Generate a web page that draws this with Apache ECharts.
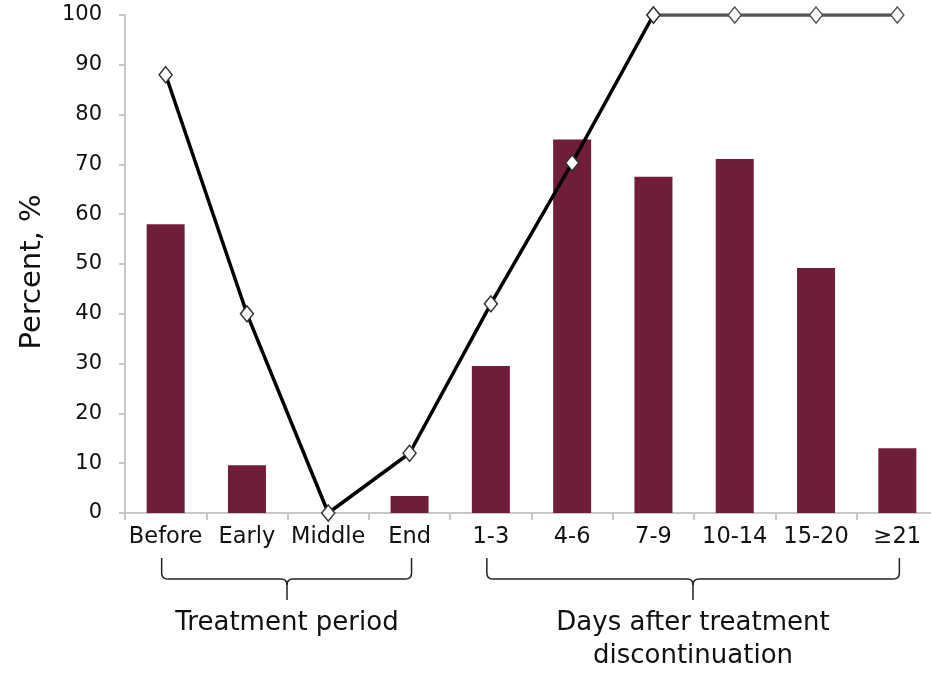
<!DOCTYPE html>
<html><head><meta charset="utf-8">
<script src="https://cdn.jsdelivr.net/npm/echarts@6/dist/echarts.min.js"></script>
<style>html,body{margin:0;padding:0;background:#fff}#c{width:931px;height:673px}</style>
</head><body><div id="c"></div>
<script>
var categories = ['Before','Early','Middle','End','1-3','4-6','7-9','10-14','15-20','\u226521'];
var barValues = [58, 9.6, 0, 3.4, 29.5, 75, 67.5, 71.1, 49.2, 13];
var lineValues = [88, 40, 0, 12, 42, 70.3, 100, 100, 100, 100];
var yTicks = {min: 0, max: 100, interval: 10};
var groups = [
  {label: 'Treatment period', from: 0, to: 3},
  {label: 'Days after treatment\ndiscontinuation', from: 4, to: 9}
];
var splitIdx = 6;
var lineA = lineValues.map(function(v,i){return i<=splitIdx ? v : '-';});
var lineB = lineValues.map(function(v,i){return i>=splitIdx ? v : '-';});

var FONT = 'DejaVu Sans';
var chart = echarts.init(document.getElementById('c'), null, {renderer:'canvas'});
var option = {
  backgroundColor: '#fff',
  animation: false,
  grid: {left: 125, width: 813, top: 15, bottom: 160, containLabel: false, outerBoundsMode: 'none'},
  xAxis: {
    type: 'category', data: categories,
    axisLine: {lineStyle: {color: '#c8c8c8', width: 2}},
    axisTick: {show: true, length: 7, lineStyle: {color: '#c8c8c8', width: 2}},
    axisLabel: {color: '#111', fontFamily: FONT, fontSize: 22.5, margin: 13, interval: 0}
  },
  yAxis: {
    type: 'value', min: yTicks.min, max: yTicks.max, interval: yTicks.interval,
    axisLine: {show: true, lineStyle: {color: '#c8c8c8', width: 2}},
    axisTick: {show: true, length: 6, lineStyle: {color: '#c8c8c8', width: 2}},
    splitLine: {show: false},
    axisLabel: {color: '#111', fontFamily: FONT, fontSize: 21, margin: 23}
  },
  series: [
    {type: 'bar', data: barValues, barWidth: 38, itemStyle: {color: '#701d3a'}, z: 2},
    {type: 'line', data: lineA, symbol: 'diamond', symbolSize: [13, 16], z: 5,
     lineStyle: {color: '#000', width: 3.5},
     itemStyle: {color: '#fff', borderColor: '#333', borderWidth: 1.5}},
    {type: 'line', data: lineB, symbol: 'diamond', symbolSize: [13, 16], z: 4,
     lineStyle: {color: '#555', width: 3.5},
     itemStyle: {color: '#fff', borderColor: '#555', borderWidth: 1.5}}
  ]
};
chart.setOption(option);

var graphics = [];
graphics.push({
  type: 'text', x: 32, y: 272, rotation: Math.PI / 2,
  style: {text: 'Percent, %', fill: '#111', font: '29px "DejaVu Sans"', align: 'center', verticalAlign: 'middle'}
});
var yTop = 558, yMid = 579, yTip = 600;
var ls = {stroke: '#222', lineWidth: 1.5, fill: null};
groups.forEach(function(g){
  var x1 = chart.convertToPixel({xAxisIndex:0}, g.from) - 4;
  var x2 = chart.convertToPixel({xAxisIndex:0}, g.to) + 2;
  var xm = Math.round((x1 + x2) / 2);
  var r = 6;
  graphics.push({type: 'line', shape: {x1: x1, y1: yTop, x2: x1, y2: yMid - r}, style: ls});
  graphics.push({type: 'bezierCurve', shape: {x1: x1, y1: yMid - r, cpx1: x1, cpy1: yMid, x2: x1 + r, y2: yMid}, style: ls});
  graphics.push({type: 'line', shape: {x1: x1 + r, y1: yMid, x2: xm - r, y2: yMid}, style: ls});
  graphics.push({type: 'bezierCurve', shape: {x1: xm - r, y1: yMid, cpx1: xm, cpy1: yMid, x2: xm, y2: yMid + r}, style: ls});
  graphics.push({type: 'bezierCurve', shape: {x1: xm + r, y1: yMid, cpx1: xm, cpy1: yMid, x2: xm, y2: yMid + r}, style: ls});
  graphics.push({type: 'line', shape: {x1: xm, y1: yMid + r, x2: xm, y2: yTip}, style: ls});
  graphics.push({type: 'line', shape: {x1: xm + r, y1: yMid, x2: x2 - r, y2: yMid}, style: ls});
  graphics.push({type: 'bezierCurve', shape: {x1: x2 - r, y1: yMid, cpx1: x2, cpy1: yMid, x2: x2, y2: yMid - r}, style: ls});
  graphics.push({type: 'line', shape: {x1: x2, y1: yMid - r, x2: x2, y2: yTop}, style: ls});
  graphics.push({
    type: 'text', x: xm, y: 607,
    style: {text: g.label, fill: '#111', font: '26px "DejaVu Sans"', align: 'center', verticalAlign: 'top', lineHeight: 33}
  });
});
chart.setOption({graphic: graphics});
</script></body></html>
